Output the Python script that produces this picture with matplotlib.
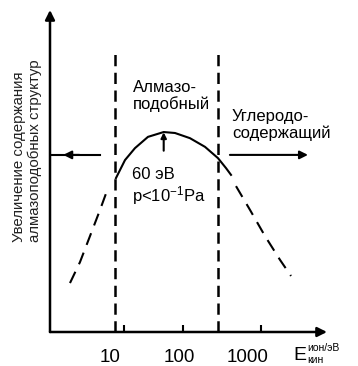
import numpy as np
import matplotlib.pyplot as plt

plt.rcParams['font.family'] = ['Liberation Sans', 'DejaVu Sans']
plt.rcParams['mathtext.fontset'] = 'custom'
plt.rcParams['mathtext.rm'] = 'Liberation Sans'
plt.rcParams['mathtext.default'] = 'rm'

# curve: energy (eV) vs relative content
left_x = [2.63, 3.67, 5.13, 7.16, 9.35]
left_y = [15.2, 21.7, 29.8, 37.9, 44.7]
mid_x = [12.2, 16.5, 23.0, 35.5, 60, 87.5, 144, 238, 367, 480, 567]
mid_y = [47.8, 53.4, 57.1, 60.6, 62.1, 61.8, 60.2, 57.5, 54.0, 50.9, 48.8]
right_x = [670, 1070, 1763, 2910, 4200]
right_y = [45.3, 37.9, 29.8, 22.4, 17.4]

bounds = [12, 370]          # region borders, eV
peak_e = 60
ticks = [10, 100, 1000]
tick_labels = ['10', '100', '1000']
tick_marks = [15.9, 114, 1540]

fig = plt.figure(figsize=(3.58, 3.66), dpi=100)
ax = fig.add_axes([50/358, 34/366, 277/358, 322/366])
ax.set_xscale('log')
ax.set_xlim(1.35, 13960)
ax.set_ylim(0, 100)
for s in ax.spines.values():
    s.set_visible(False)
ax.set_yticks([])
ax.set_xticks(ticks)
ax.set_xticklabels(tick_labels, fontsize=13.5)
ax.set_xticks(tick_marks, minor=True)
ax.set_xticklabels([], minor=True)
ax.tick_params(axis='x', which='major', length=0, pad=12)
ax.tick_params(axis='x', which='minor', direction='in', length=5, width=1.5)

arr = dict(color='black', shrinkA=0, shrinkB=0)

# axes with arrows
ax.annotate('', xy=(0, 1), xytext=(0, 0), xycoords='axes fraction',
            arrowprops=dict(arrowstyle='-|>', lw=1.8, mutation_scale=14, **arr))
ax.annotate('', xy=(1, 0), xytext=(0, 0), xycoords='axes fraction',
            arrowprops=dict(arrowstyle='-|>', lw=1.8, mutation_scale=14, **arr))

# curve
ax.plot(left_x, left_y, color='black', lw=1.5, dashes=(6, 4))
ax.plot(mid_x, mid_y, color='black', lw=1.5)
ax.plot(right_x, right_y, color='black', lw=1.5, dashes=(6, 4))

# region borders
for b in bounds:
    ax.plot([b, b], [0, 87], color='black', lw=1.8, dashes=(4.5, 2.6))

# region arrows
ax.plot([1.35, 7.16], [55, 55], color='black', lw=1.5)
ax.annotate('', xy=(2.1, 55), xytext=(3.6, 55),
            arrowprops=dict(arrowstyle='-|>', lw=1.5, mutation_scale=12, **arr))
ax.annotate('', xy=(7400, 55), xytext=(547, 55),
            arrowprops=dict(arrowstyle='-|>', lw=1.5, mutation_scale=12, **arr))
ax.annotate('', xy=(peak_e, 62), xytext=(peak_e, 56.3),
            arrowprops=dict(arrowstyle='-|>', lw=1.5, mutation_scale=8, **arr))

ax.text(21.5, 73.3, 'Алмазо-\nподобный', fontsize=12, ha='left', va='center', linespacing=1.05)
ax.text(585, 64.3, 'Углеродо-\nсодержащий', fontsize=12, ha='left', va='center', linespacing=1.05)
ax.text(20.8, 45.0, '60 эВ\np<10$^{-1}$Pa', fontsize=12, ha='left', va='center', linespacing=1.1)

fig.text(27/358, 1 - 151/366, 'Увеличение содержания\nалмазоподобных структур',
         rotation=90, fontsize=10.8, ha='center', va='center', multialignment='left',
         color='#222222')

fig.text(293/358, 1 - 355/366, 'E', fontsize=14, ha='left', va='center')
fig.text(307/358, 1 - 360/366, 'кин', fontsize=7.5, ha='left', va='center')
fig.text(307/358, 1 - 348/366, 'ион/эВ', fontsize=7.5, ha='left', va='center')

fig.savefig('out.png', dpi=100)
